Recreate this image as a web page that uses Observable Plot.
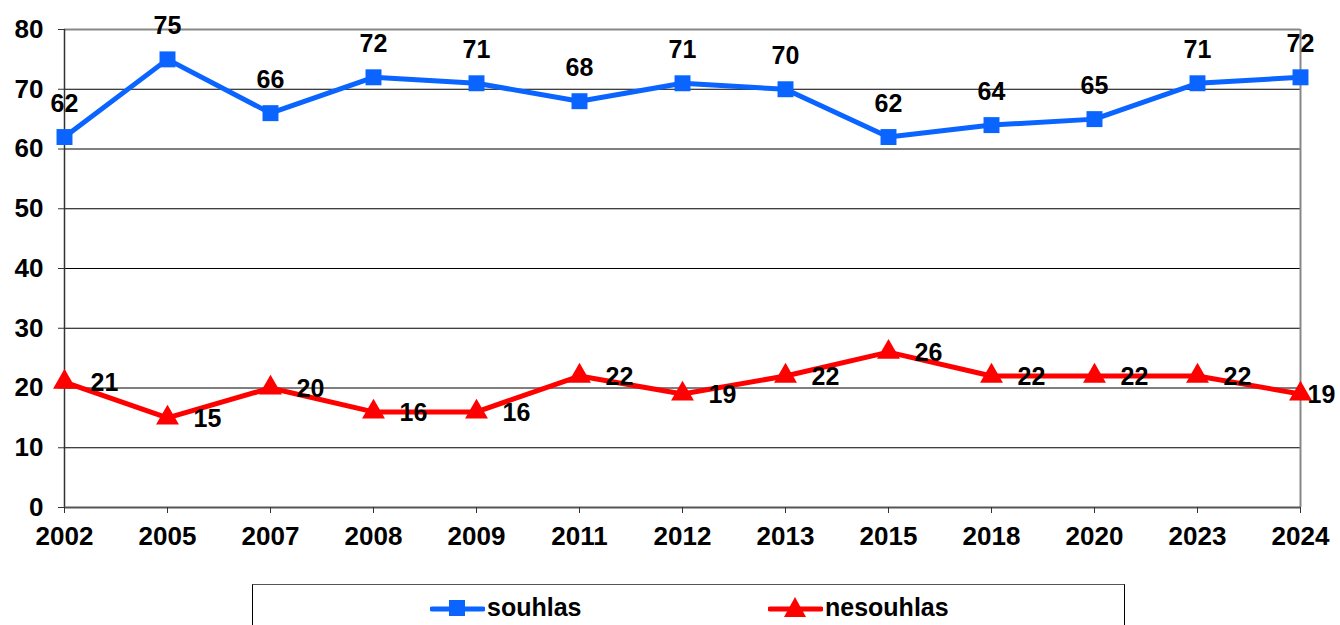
<!DOCTYPE html>
<html>
<head>
<meta charset="utf-8">
<script src="https://cdn.jsdelivr.net/npm/d3@7"></script>
<script src="https://cdn.jsdelivr.net/npm/@observablehq/plot@0.6"></script>
<style>
  body { margin: 0; background: #fff; font-family: "Liberation Sans", Arial, sans-serif; }
  #chart svg { display: block; }
  #legend {
    position: absolute; left: 252px; top: 584px; width: 873px; height: 60px;
    border: 1px solid #000; border-top-color: #555; box-sizing: border-box; background: #fff;
  }
  .item { position: absolute; top: 8px; display: flex; align-items: center; font-weight: bold; font-size: 25px; }
  .item svg { margin-right: 2px; }
</style>
</head>
<body>
<div id="chart"></div>
<div id="legend"></div>
<script>
const years = ["2002","2005","2007","2008","2009","2011","2012","2013","2015","2018","2020","2023","2024"];
const souhlas = [62,75,66,72,71,68,71,70,62,64,65,71,72];
const nesouhlas = [21,15,20,16,16,22,19,22,26,22,22,22,19];
const yTicks = [0,10,20,30,40,50,60,70,80];
const gridLines = [10,20,30,40,50,60,70];
const seriesNames = ["souhlas","nesouhlas"];
const colors = ["#0a64ff","#ff0000"];

const dataS = years.map((y,i)=>({year:y, value:souhlas[i]}));
const dataN = years.map((y,i)=>({year:y, value:nesouhlas[i]}));
const last = years[years.length-1];
const tickFont = {fontSize: 26, fontWeight: "bold", fill: "#000"};
const font = {fontSize: 25, fontWeight: "bold", fill: "#000"};

const chart = Plot.plot({
  width: 1340, height: 560,
  marginLeft: 64, marginRight: 40, marginTop: 29, marginBottom: 53,
  style: {fontFamily: '"Liberation Sans", Arial, sans-serif', background: "#fff", overflow: "visible"},
  x: {type: "point", domain: years, padding: 0},
  y: {domain: [0, 80]},
  marks: [
    Plot.ruleY(gridLines, {stroke: "#000", strokeWidth: 1}),
    Plot.ruleY([80], {stroke: "#888", strokeWidth: 2}),
    Plot.ruleX([last], {stroke: "#888", strokeWidth: 2}),
    Plot.ruleX([years[0]], {stroke: "#333", strokeWidth: 1.5}),
    Plot.ruleY([0], {stroke: "#555", strokeWidth: 2}),
    Plot.axisY({ticks: yTicks, tickSize: 6, tickPadding: 15, stroke: "#333", label: null, ...tickFont}),
    Plot.axisX({tickSize: 6, tickPadding: 13, stroke: "#333", label: null, ...tickFont}),
    Plot.line(dataS, {x: "year", y: "value", stroke: colors[0], strokeWidth: 5}),
    Plot.line(dataN, {x: "year", y: "value", stroke: colors[1], strokeWidth: 5}),
    Plot.dot(dataS, {x: "year", y: "value", symbol: "square", r: 9, fill: colors[0]}),
    Plot.dot(dataN, {x: "year", y: "value", symbol: "triangle", r: 8.5, fill: colors[1]}),
    Plot.text(dataS, {x: "year", y: "value", text: d => String(d.value), dy: -33, ...font}),
    Plot.text(dataN.filter(d => d.year !== last), {x: "year", y: "value", text: d => String(d.value), textAnchor: "start", dx: 26, dy: 1, ...font}),
    Plot.text(dataN.filter(d => d.year === last), {x: "year", y: "value", text: d => String(d.value), textAnchor: "start", dx: 7, dy: 1, ...font})
  ]
});
document.getElementById("chart").appendChild(chart);

// Legend
const legend = document.getElementById("legend");
const lefts = [177, 515];
seriesNames.forEach((name, i) => {
  const item = document.createElement("div");
  item.className = "item";
  item.style.left = lefts[i] + "px";
  const marker = i === 0
    ? `<rect x="19" y="6" width="16" height="16" fill="${colors[0]}"/>`
    : `<path d="M27,3 L38,23 L16,23 Z" fill="${colors[1]}"/>`;
  item.innerHTML = `<svg width="55" height="28"><line x1="2" y1="15" x2="53" y2="15" stroke="${colors[i]}" stroke-width="5" stroke-linecap="round"/>${marker}</svg><span>${name}</span>`;
  legend.appendChild(item);
});
</script>
</body>
</html>
